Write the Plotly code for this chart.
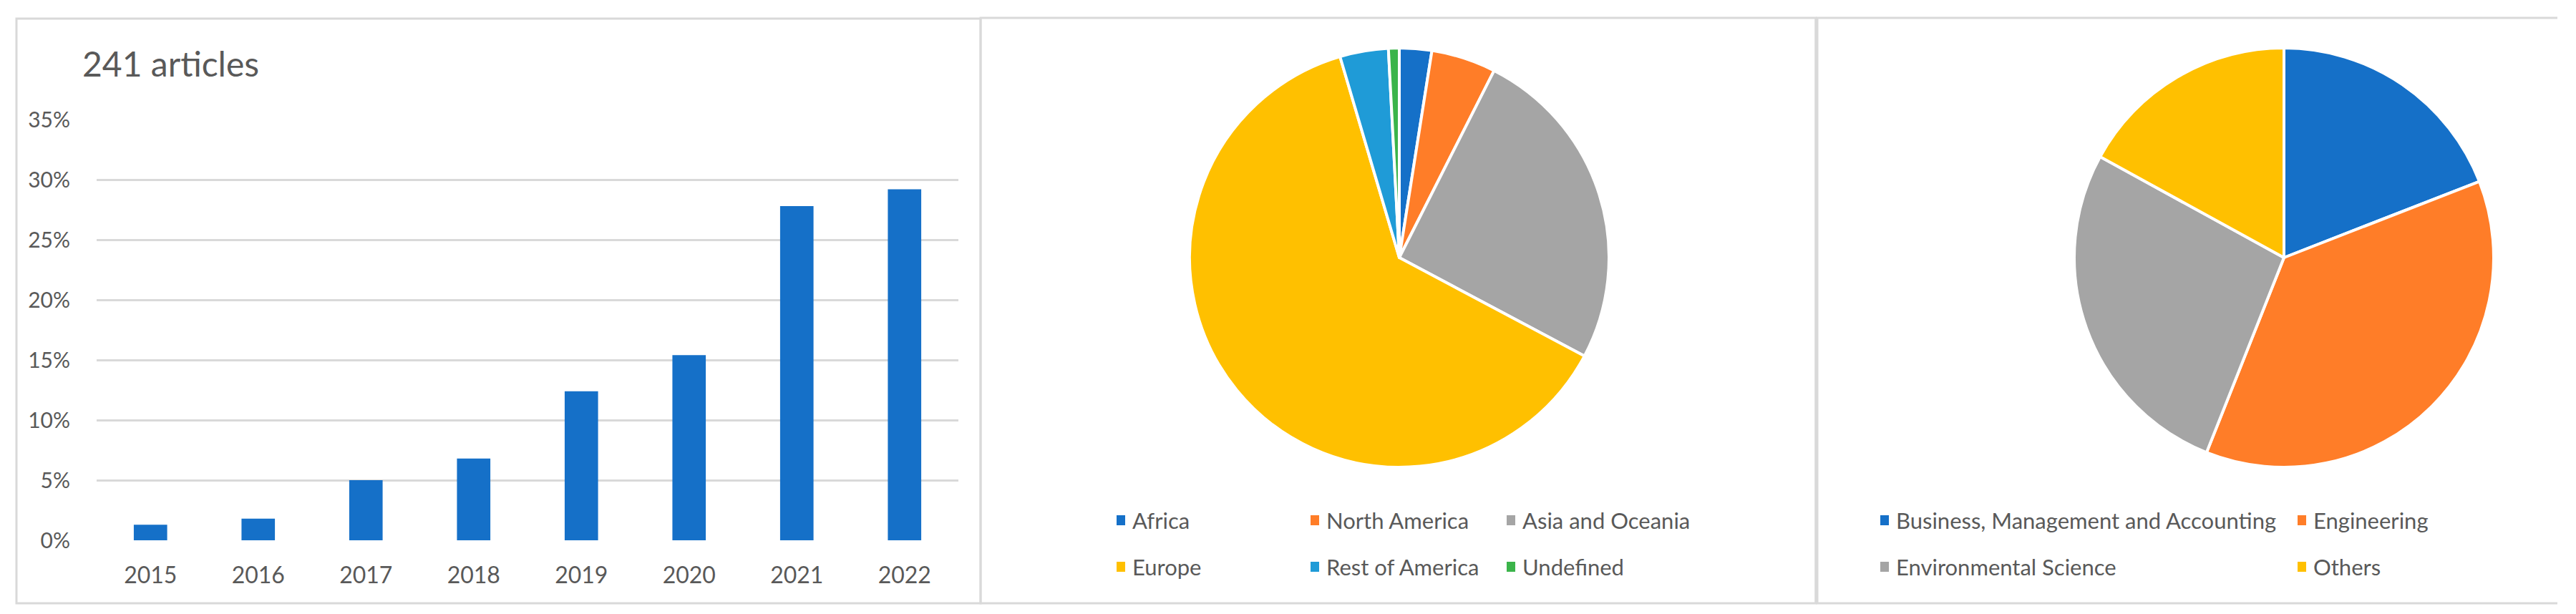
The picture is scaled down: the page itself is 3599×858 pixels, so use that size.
import plotly.graph_objects as go

# page body keeps its default 8px margin, so the figure is shrunk by that much
OFF = 8
W, H = 3599 - 2 * OFF, 858 - 2 * OFF

YEARS = ["2015", "2016", "2017", "2018", "2019", "2020", "2021", "2022"]
SHARE = [1.3, 1.8, 5.0, 6.8, 12.4, 15.4, 27.8, 29.2]

REGIONS = ["Africa", "North America", "Asia and Oceania", "Europe", "Rest of America", "Undefined"]
REGION_N = [6, 12, 61, 151, 9, 2]
REGION_COLORS = ["#1570c8", "#ff7d28", "#a5a5a5", "#ffc000", "#1f9bd7", "#3bb44a"]

AREAS = ["Business, Management and Accounting", "Engineering", "Environmental Science", "Others"]
AREA_N = [46, 89, 65, 41]
AREA_COLORS = ["#1570c8", "#ff7d28", "#a5a5a5", "#ffc000"]

TXT = "#595959"
GRID = "#d9d9d9"
FONT = "Lato"


def fx(x):
    return (x - OFF) / W


def fy(y):
    return 1 - (y - OFF) / H


def pie_domain(cx, cy, r):
    return dict(x=[fx(cx - r), fx(cx + r)], y=[fy(cy + r), fy(cy - r)])


fig = go.Figure()

fig.add_trace(go.Bar(x=YEARS, y=SHARE, marker=dict(color="#1570c8", line=dict(width=0)),
                     xaxis="x", yaxis="y", showlegend=False))

fig.add_trace(go.Pie(labels=REGIONS, values=REGION_N, sort=False, direction="clockwise", rotation=0,
                     marker=dict(colors=REGION_COLORS, line=dict(color="white", width=4)),
                     textinfo="none", domain=pie_domain(1955, 360, 293), showlegend=False))

fig.add_trace(go.Pie(labels=AREAS, values=AREA_N, sort=False, direction="clockwise", rotation=0,
                     marker=dict(colors=AREA_COLORS, line=dict(color="white", width=4)),
                     textinfo="none", domain=pie_domain(3191, 360, 293), showlegend=False))

shapes = []
annotations = []

# panel frames
line = dict(color=GRID, width=3)
shapes.append(dict(type="rect", xref="paper", yref="paper", x0=fx(23), x1=fx(1370), y0=fy(843), y1=fy(26), line=line))
shapes.append(dict(type="rect", xref="paper", yref="paper", x0=fx(1370), x1=fx(2537), y0=fy(843), y1=fy(25), line=line))
shapes.append(dict(type="line", xref="paper", yref="paper", x0=fx(2537), x1=fx(3573), y0=fy(25), y1=fy(25), line=line))
shapes.append(dict(type="line", xref="paper", yref="paper", x0=fx(2537), x1=fx(3573), y0=fy(843), y1=fy(843), line=line))
shapes.append(dict(type="line", xref="paper", yref="paper", x0=fx(2538), x1=fx(2538), y0=fy(843), y1=fy(25),
                   line=dict(color=GRID, width=5)))

annotations.append(dict(text="241 articles", xref="paper", yref="paper", x=fx(113), y=fy(89),
                        xanchor="left", yanchor="middle", showarrow=False,
                        font=dict(family=FONT, size=48, color=TXT)))


def add_legend(labels, colors, cols, rows):
    n = len(cols)
    for i, (lab, col) in enumerate(zip(labels, colors)):
        mx = cols[i % n]
        my = rows[i // n]
        shapes.append(dict(type="rect", xref="paper", yref="paper", x0=fx(mx - 6), x1=fx(mx + 6),
                           y0=fy(my + 7), y1=fy(my - 7), fillcolor=col, line=dict(width=0)))
        annotations.append(dict(text=lab, xref="paper", yref="paper", x=fx(mx + 14), y=fy(my),
                                xanchor="left", yanchor="middle", showarrow=False,
                                font=dict(family=FONT, size=31, color=TXT)))


add_legend(REGIONS, REGION_COLORS, [1566, 1837, 2111], [727, 792])
add_legend(AREAS, AREA_COLORS, [2633, 3216], [727, 792])

fig.update_layout(
    width=W, height=H,
    margin=dict(l=0, r=0, t=0, b=0),
    paper_bgcolor="white", plot_bgcolor="white",
    font=dict(family=FONT, size=31, color=TXT),
    bargap=0.69,
    xaxis=dict(domain=[fx(135), fx(1339)], anchor="y", showgrid=False, showline=False, zeroline=False,
               automargin=False,
               ticks="outside", ticklen=21, tickcolor="rgba(0,0,0,0)", tickfont=dict(size=32, color=TXT)),
    yaxis=dict(domain=[fy(755), fy(167)], anchor="x", range=[0, 35], dtick=5, ticksuffix="%",
               showgrid=True, gridcolor=GRID, gridwidth=3, zeroline=False, showline=False, automargin=False,
               ticks="outside", ticklen=30, tickcolor="rgba(0,0,0,0)", tickfont=dict(size=30, color=TXT)),
    shapes=shapes,
    annotations=annotations,
)

fig.write_html("out.html")
